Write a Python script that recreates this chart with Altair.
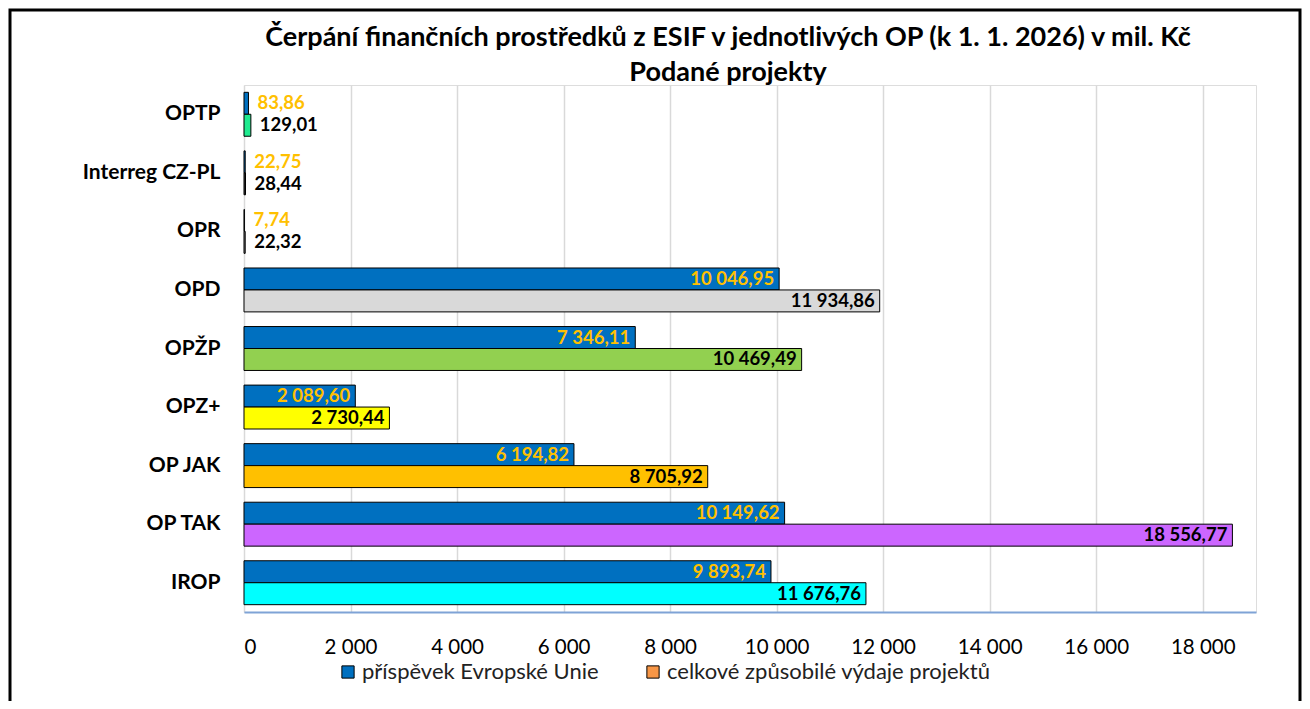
import altair as alt
import pandas as pd

categories = ["OPTP", "Interreg CZ-PL", "OPR", "OPD", "OPŽP", "OPZ+", "OP JAK", "OP TAK", "IROP"]
eu_values = [83.86, 22.75, 7.74, 10046.95, 7346.11, 2089.60, 6194.82, 10149.62, 9893.74]
total_values = [129.01, 28.44, 22.32, 11934.86, 10469.49, 2730.44, 8705.92, 18556.77, 11676.76]
series_names = ["příspěvek Evropské Unie", "celkové způsobilé výdaje projektů"]
x_ticks = [0, 2000, 4000, 6000, 8000, 10000, 12000, 14000, 16000, 18000]

# style mapping (not data)
total_colors = ["#1FEB8F", "#333333", "#808080", "#D9D9D9", "#92D050", "#FFFF00", "#FFC000", "#CC66FF", "#00FFFF"]
legend_colors = ["#0070C0", "#F79646"]

rows = []
for c, e, t in zip(categories, eu_values, total_values):
    rows.append({"cat": c, "series": series_names[0], "value": e, "key": series_names[0]})
    rows.append({"cat": c, "series": series_names[1], "value": t, "key": c})
df = pd.DataFrame(rows)

FONT = "Lato"
W, H = 1012, 527

color_scale = alt.Scale(domain=series_names + categories, range=legend_colors + total_colors)

base = alt.Chart(df).encode(
    y=alt.Y("cat:N", sort=categories,
            scale=alt.Scale(paddingInner=0.25, paddingOuter=0.125),
            axis=alt.Axis(title=None, domain=False, ticks=False, labelFontWeight="bold",
                          labelFontSize=21, labelColor="black", labelFont=FONT, labelPadding=24)),
    yOffset=alt.YOffset("series:N", sort=series_names),
)

bars = base.mark_bar(stroke="black", strokeWidth=1).encode(
    x=alt.X("value:Q", scale=alt.Scale(domain=[0, 19000], nice=False),
            axis=alt.Axis(title=None, values=x_ticks, format=",.0f", grid=True, gridColor="#D9D9D9",
                          gridWidth=1.5, ticks=False, domainColor="#7FA3D6", domainWidth=2,
                          labelFontSize=20.5, labelColor="black", labelFont=FONT, labelPadding=25)),
    color=alt.Color("key:N", scale=color_scale,
                    legend=alt.Legend(values=series_names, title=None, orient="none",
                                      legendX=93, legendY=576, direction="horizontal",
                                      symbolType="square", symbolSize=150, symbolStrokeColor="black",
                                      symbolStrokeWidth=1, labelFontSize=22, labelFont=FONT,
                                      labelColor="#222222", columnPadding=43, labelOffset=3,
                                      labelLimit=0)),
)

lab_color = alt.condition(alt.datum.series == series_names[0], alt.value("#FFC000"), alt.value("black"))

text_in = base.mark_text(align="right", baseline="middle", dx=-5, fontWeight="bold",
                         fontSize=18.5, font=FONT).encode(
    x="value:Q", text=alt.Text("value:Q", format=",.2f"), color=lab_color
).transform_filter(alt.datum.value > 1000)

text_out = base.mark_text(align="left", baseline="middle", dx=9, fontWeight="bold",
                          fontSize=18.5, font=FONT).encode(
    x="value:Q", text=alt.Text("value:Q", format=",.2f"), color=lab_color
).transform_filter(alt.datum.value <= 1000)

frame = alt.Chart(pd.DataFrame({"a": [0]})).mark_rect(
    fillOpacity=0, stroke="black", strokeWidth=3
).encode(x=alt.value(-234), x2=alt.value(1056), y=alt.value(-75), y2=alt.value(700))

chart = alt.layer(bars, text_in, text_out, frame).properties(
    width=W, height=H,
    autosize=alt.AutoSizeParams(type="none"),
    padding={"left": 236, "top": 77, "right": 46, "bottom": 89},
    title=alt.TitleParams(
        text=["Čerpání finančních prostředků z ESIF v jednotlivých OP (k 1. 1. 2026) v mil. Kč",
              "Podané projekty"],
        font=FONT, fontSize=27, fontWeight="bold", color="black", anchor="middle", frame="group",
        dx=-22, offset=-78, lineHeight=35),
).configure_view(stroke=None).configure(
    locale=alt.Locale(number=alt.NumberLocale(decimal=",", thousands=" ", grouping=[3],
                                              currency=["", " Kč"]))
)

chart.save("out.html", embed_options={"renderer": "svg", "actions": False})
